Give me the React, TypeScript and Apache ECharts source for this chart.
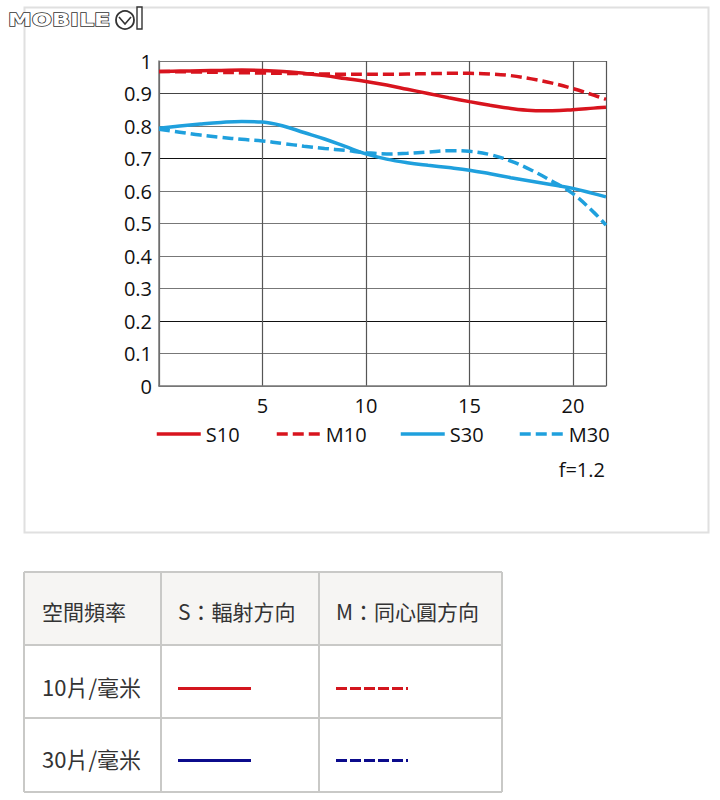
import React, { useEffect, useRef } from "react";
import * as echarts from "echarts";

const xs = [0, 1, 2, 3, 4, 5, 6, 7, 8, 9, 10, 11, 12, 13, 14, 15, 16, 17, 18, 19, 20, 21, 21.6];
const s10 = [0.968, 0.969, 0.97, 0.971, 0.972, 0.971, 0.968, 0.962, 0.955, 0.946, 0.937, 0.926, 0.913, 0.9, 0.887, 0.875, 0.864, 0.854, 0.848, 0.847, 0.85, 0.855, 0.858];
const m10 = [0.968, 0.967, 0.966, 0.965, 0.964, 0.963, 0.962, 0.961, 0.96, 0.959, 0.959, 0.959, 0.96, 0.961, 0.962, 0.962, 0.96, 0.955, 0.945, 0.932, 0.915, 0.895, 0.882];
const s30 = [0.793, 0.8, 0.806, 0.811, 0.814, 0.812, 0.8, 0.78, 0.76, 0.737, 0.714, 0.698, 0.687, 0.679, 0.672, 0.664, 0.653, 0.641, 0.63, 0.619, 0.608, 0.592, 0.582];
const m30 = [0.79, 0.781, 0.772, 0.765, 0.759, 0.754, 0.746, 0.738, 0.731, 0.725, 0.718, 0.714, 0.716, 0.72, 0.724, 0.722, 0.712, 0.692, 0.664, 0.63, 0.592, 0.535, 0.495];

const seriesNames = ["S10", "M10", "S30", "M30"];
const legendLefts = [155, 275, 399, 518];
const noteText = "f=1.2";

const tableHeader = ["空間頻率", "S：輻射方向", "M：同心圓方向"];
const tableRows = ["10片/毫米", "30片/毫米"];

const RED = "#d8141e";
const BLUE = "#1fa0dd";
const NAVY = "#0b0b8c";
const FONT = "'Open Sans', 'Noto Sans', sans-serif";
const CJK = "'Noto Sans CJK TC', 'Noto Sans', sans-serif";

function pairs(ys: number[]) {
  return xs.map((x, i) => [x, ys[i]]);
}

export default function App() {
  const ref = useRef<HTMLDivElement>(null);
  useEffect(() => {
    if (!ref.current) return;
    const chart = echarts.init(ref.current, undefined, { renderer: "svg" });

    const colX = [24, 161, 319, 502];
    const rowY = [572, 645, 718, 792];
    const graphics: any[] = [];

    // outer chart box
    graphics.push({
      type: "rect",
      shape: { x: 24.5, y: 7.5, width: 684, height: 525 },
      style: { fill: "none", stroke: "#e0e0e0", lineWidth: 2 },
      silent: true,
    });
    // logo
    graphics.push({
      type: "text",
      x: 8,
      y: 20,
      scaleX: 1.4,
      style: {
        text: "MOBILE",
        font: "bold 17px 'DejaVu Sans', sans-serif",
        fill: "#ffffff",
        stroke: "#333333",
        lineWidth: 1.3,
        verticalAlign: "middle",
        align: "left",
      },
      z: 10,
    });
    graphics.push({
      type: "circle",
      shape: { cx: 125, cy: 20, r: 9 },
      style: { fill: "#fff", stroke: "#333", lineWidth: 1.8 },
      z: 10,
    });
    graphics.push({
      type: "polyline",
      shape: { points: [[119, 17], [125, 24], [131, 17]] },
      style: { fill: "none", stroke: "#333", lineWidth: 1.6 },
      z: 10,
    });
    graphics.push({
      type: "rect",
      shape: { x: 137, y: 7, width: 5, height: 22 },
      style: { fill: "#fff", stroke: "#333", lineWidth: 1.4 },
      z: 10,
    });
    // note
    graphics.push({
      type: "text",
      x: 605,
      y: 469,
      style: {
        text: noteText,
        font: `20px ${FONT}`,
        fill: "#111",
        align: "right",
        verticalAlign: "middle",
      },
    });

    // table
    graphics.push({
      type: "rect",
      shape: { x: colX[0], y: rowY[0], width: colX[3] - colX[0], height: rowY[1] - rowY[0] },
      style: { fill: "#f6f5f3" },
      silent: true,
    });
    for (const y of rowY) {
      graphics.push({
        type: "line",
        shape: { x1: colX[0], y1: y, x2: colX[3], y2: y },
        style: { stroke: "#c9c9c7", lineWidth: 2 },
      });
    }
    for (const x of colX) {
      graphics.push({
        type: "line",
        shape: { x1: x, y1: rowY[0], x2: x, y2: rowY[3] },
        style: { stroke: "#c9c9c7", lineWidth: 2 },
      });
    }
    const textLefts = [42, 178, 336];
    tableHeader.forEach((t, i) => {
      graphics.push({
        type: "text",
        x: textLefts[i],
        y: 611,
        style: { text: t, font: `21px ${CJK}`, fill: "#333", verticalAlign: "middle", align: "left" },
      });
    });
    const rowCenters = [686, 758];
    tableRows.forEach((t, i) => {
      const cy = rowCenters[i];
      graphics.push({
        type: "text",
        x: 42,
        y: cy,
        style: { text: t, font: `22px ${CJK}`, fill: "#333", verticalAlign: "middle", align: "left" },
      });
      const c = i === 0 ? "#d3161e" : NAVY;
      graphics.push({
        type: "line",
        shape: { x1: 178, y1: cy + 2.5, x2: 251, y2: cy + 2.5 },
        style: { stroke: c, lineWidth: 3 },
      });
      graphics.push({
        type: "line",
        shape: { x1: 336, y1: cy + 2.5, x2: 408, y2: cy + 2.5 },
        style: { stroke: c, lineWidth: 3, lineDash: [11, 3] },
      });
    });

    const ySplitColors = ["#777", "#777", "#111", "#777", "#777", "#777", "#777", "#111", "#777", "#444", "#777"];

    const lineSeries = [s10, m10, s30, m30].map((d, i) => ({
      name: seriesNames[i],
      type: "line",
      data: pairs(d),
      smooth: 0.4,
      symbol: "none",
      showSymbol: false,
      lineStyle: {
        color: i < 2 ? RED : BLUE,
        width: 3.5,
        type: i % 2 === 1 ? [11, 5] : "solid",
      },
      itemStyle: { color: i < 2 ? RED : BLUE },
      z: 5,
    }));

    chart.setOption({
      animation: false,
      backgroundColor: "#fff",
      grid: { left: 159, top: 61, width: 447, height: 325 },
      xAxis: {
        type: "value",
        min: 0,
        max: 21.6,
        interval: 5,
        axisLine: { show: true, lineStyle: { color: "#777", width: 1.5 } },
        axisTick: { show: false },
        axisLabel: {
          margin: 9,
          fontSize: 20,
          fontFamily: FONT,
          color: "#111",
          formatter: (v: number) => (v > 0 && Math.abs(v % 5) < 1e-6 ? String(v) : ""),
        },
        splitLine: { show: true, lineStyle: { color: "#555", width: 1.2 } },
      },
      yAxis: {
        type: "value",
        min: 0,
        max: 1,
        interval: 0.1,
        axisLine: { show: true, lineStyle: { color: "#777", width: 1.5 } },
        axisTick: { show: false },
        axisLabel: {
          margin: 7,
          fontSize: 20,
          fontFamily: FONT,
          color: "#111",
          formatter: (v: number) => String(Math.round(v * 10) / 10),
        },
        splitLine: { show: true, lineStyle: { color: ySplitColors, width: 1.2 } },
      },
      legend: seriesNames.map((n, i) => ({
        data: [n],
        left: legendLefts[i],
        top: 424,
        itemWidth: 44,
        itemHeight: 16,
        padding: 0,
        itemStyle: { opacity: 0 },
        lineStyle: { width: 3.5 },
        textStyle: { fontSize: 20, fontFamily: FONT, color: "#111" },
        selectedMode: false,
      })),
      series: lineSeries,
      graphic: graphics,
    });
    return () => chart.dispose();
  }, []);
  return (
    <div
      ref={ref}
      style={{ position: "absolute", left: 0, top: 0, width: 720, height: 800 }}
    />
  );
}
